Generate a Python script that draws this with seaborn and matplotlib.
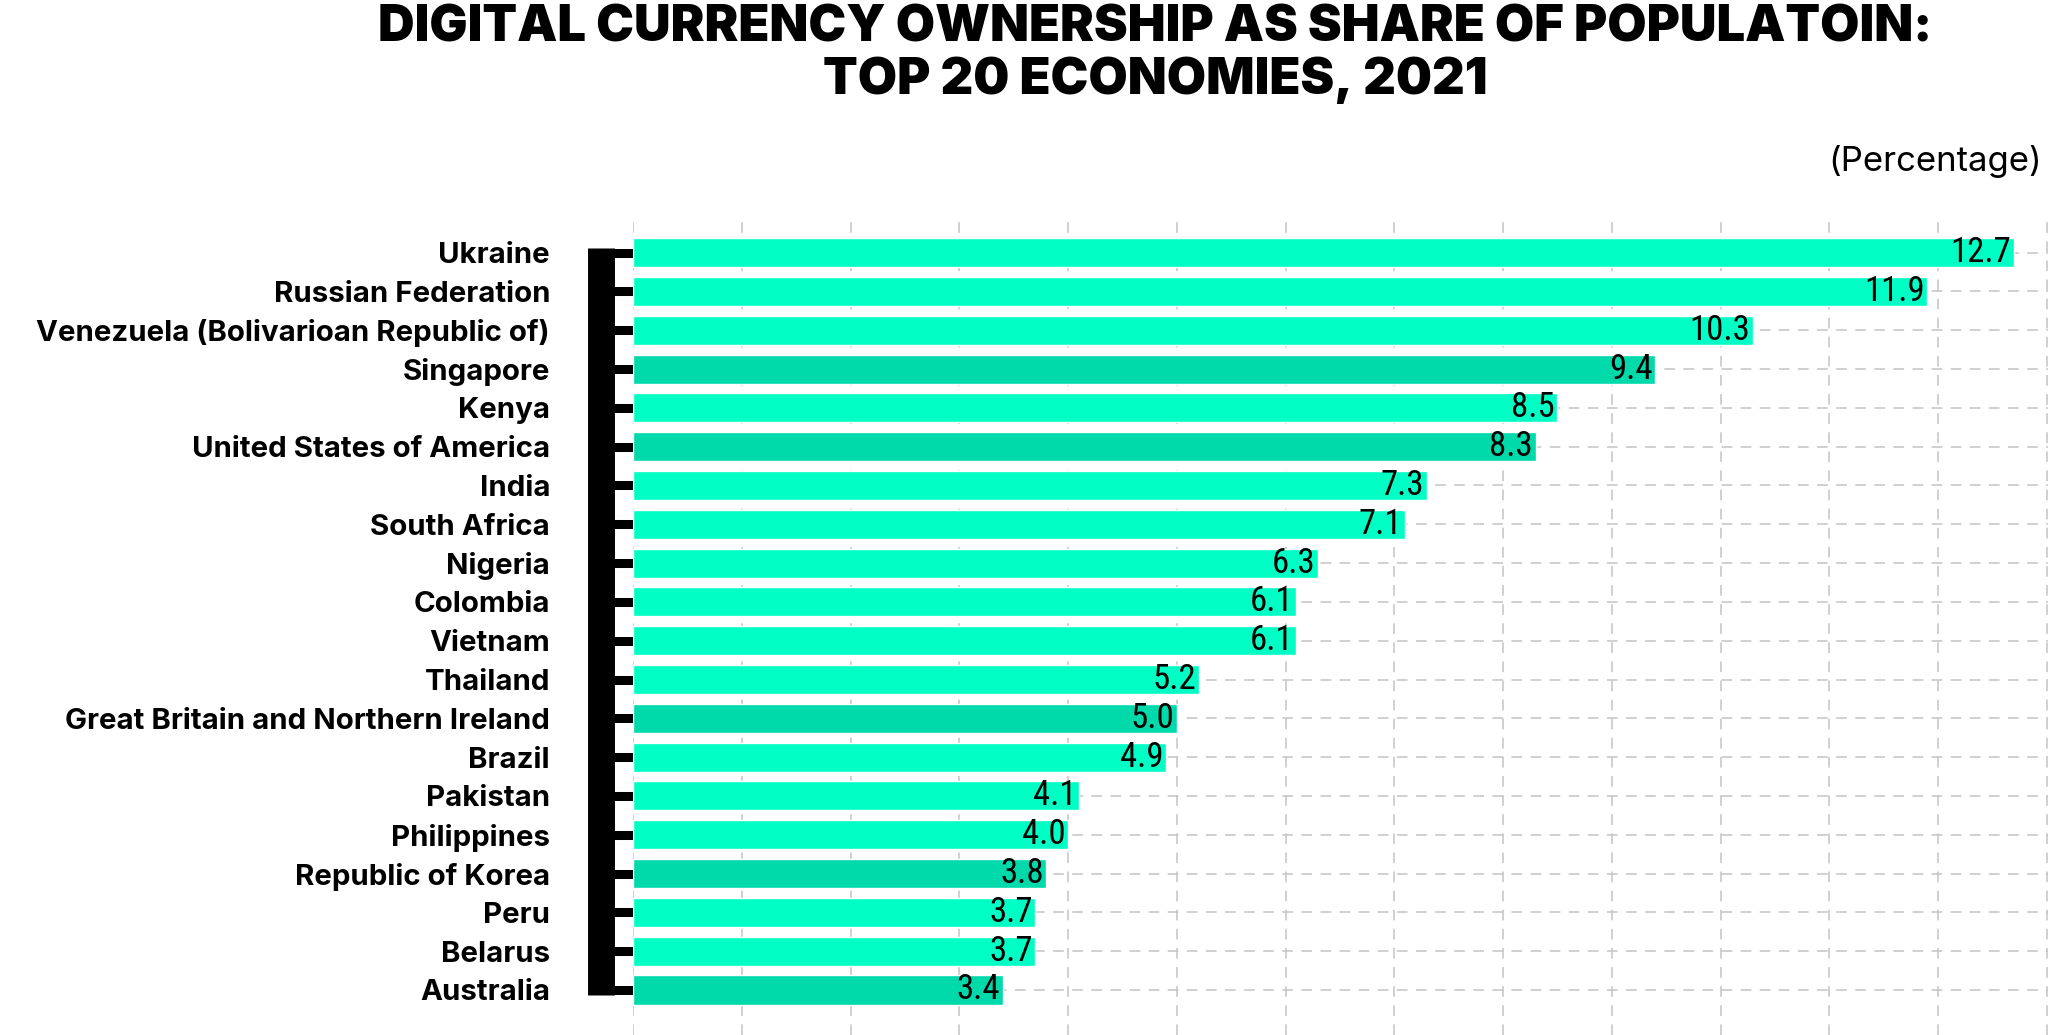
import matplotlib
matplotlib.use("Agg")
import matplotlib.pyplot as plt
import seaborn as sns

sns.set_theme(style="white")
plt.rcParams["font.family"] = ["Inter", "DejaVu Sans"]

countries = [
    "Ukraine", "Russian Federation", "Venezuela (Bolivarioan Republic of)",
    "Singapore", "Kenya", "United States of America", "India", "South Africa",
    "Nigeria", "Colombia", "Vietnam", "Thailand",
    "Great Britain and Northern Ireland", "Brazil", "Pakistan", "Philippines",
    "Republic of Korea", "Peru", "Belarus", "Australia",
]
share = [12.7, 11.9, 10.3, 9.4, 8.5, 8.3, 7.3, 7.1, 6.3, 6.1, 6.1, 5.2,
         5.0, 4.9, 4.1, 4.0, 3.8, 3.7, 3.7, 3.4]
highlight = ["Singapore", "United States of America",
             "Great Britain and Northern Ireland", "Republic of Korea",
             "Australia"]

_bright = "#00FFC4"
_dark = "#00D9AA"
_grid = "#C4C4C4"

palette = {c: (_dark if c in highlight else _bright) for c in countries}

fig = plt.figure(figsize=(20.48, 10.35), dpi=100)
ax = fig.add_axes([633 / 2048, 0, 1 - 633 / 2048, 820 / 1035])

sns.barplot(x=share, y=countries, hue=countries, palette=palette,
            legend=False, orient="h", width=0.75, saturation=1,
            ax=ax, zorder=3)

ax.set_xlim(0, 13.01)
ax.set_ylim(20.16, -0.97)
ax.set_xticks(range(0, 14))
ax.tick_params(axis="x", length=0, labelbottom=False)
ax.grid(True, color=_grid, linewidth=1.1, linestyle=(0, (7, 5.5)))
ax.set_axisbelow(True)
ax.set_xlabel("")
ax.set_ylabel("")

for side in ["top", "right", "bottom"]:
    ax.spines[side].set_visible(False)
left = ax.spines["left"]
left.set_position(("outward", 23))
left.set_linewidth(19.4)
left.set_color("black")
left.set_capstyle("butt")
left.set_bounds(-0.12, len(countries) - 1 + 0.12)
ax.tick_params(axis="y", left=True, direction="in", length=23, width=6.5,
               color="black", pad=36.7, labelsize=21.2)
for lbl in ax.get_yticklabels():
    lbl.set_fontweight("bold")
    lbl.set_color("black")

for cont in ax.containers:
    texts = ax.bar_label(cont, fmt="%.1f", padding=-2, fontsize=25,
                         family=["Liberation Sans Narrow", "Roboto Condensed",
                                 "DejaVu Sans Condensed", "Roboto"],
                         color="black")
    for t in texts:
        t.set_ha("right")

fig.text(0.564, 1 - 4 / 1035,
         "DIGITAL CURRENCY OWNERSHIP AS SHARE OF POPULATOIN:\nTOP 20 ECONOMIES, 2021",
         ha="center", va="top", fontsize=36.5, fontweight="black",
         linespacing=1.15, color="black")
fig.text(2042 / 2048, 1 - 161 / 1035, "(Percentage)", ha="right",
         va="center", fontsize=25, color="black")

fig.savefig("out.png", dpi=100)
